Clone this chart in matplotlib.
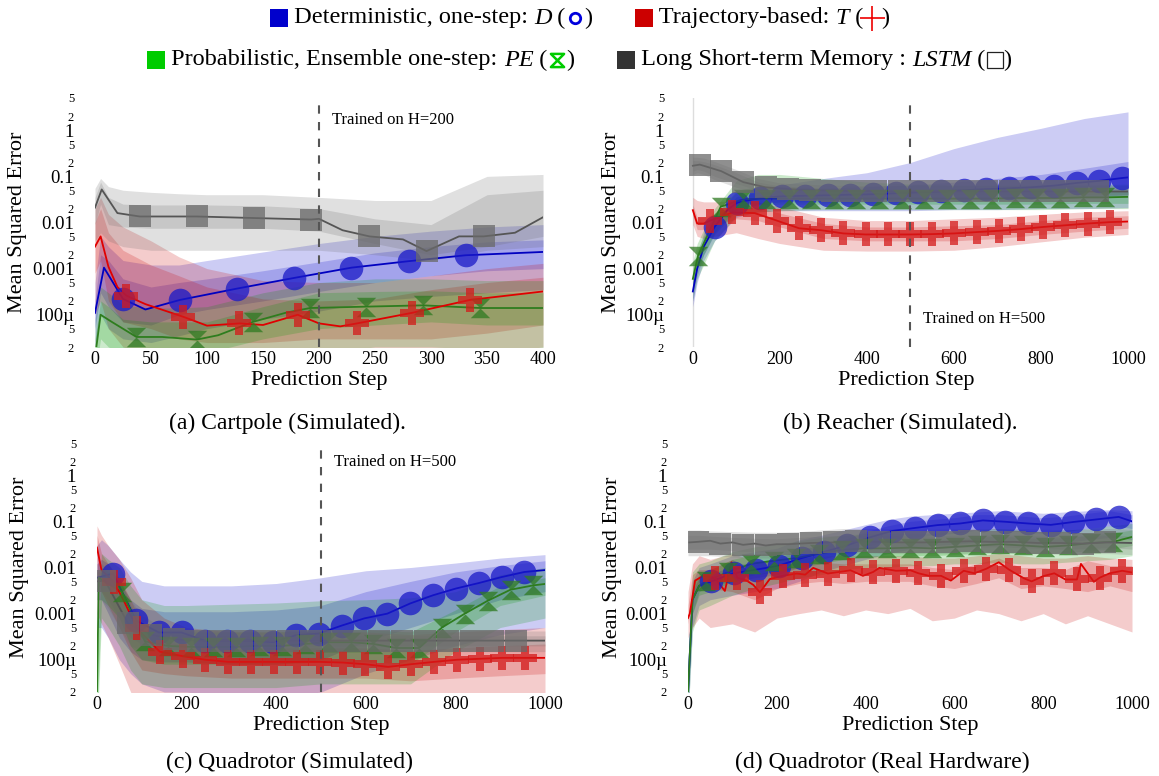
import matplotlib
matplotlib.use("Agg")
import matplotlib.pyplot as plt
from matplotlib.path import Path
from matplotlib.patches import Rectangle
from matplotlib.lines import Line2D
from matplotlib.offsetbox import HPacker, TextArea, DrawingArea, AnchoredOffsetbox

plt.rcParams["font.family"] = ["Liberation Serif", "DejaVu Serif"]

# ---------------- (a) Cartpole (Simulated) ----------------
A_BAND_X = [0, 5, 12, 25, 50, 75, 100, 150, 200, 250, 300, 350, 400]

A_D_X = [0, 8, 25, 45, 76, 127, 178, 229, 280, 331, 400]
A_D_Y = [1.1e-4, 1.05e-3, 2.2e-4, 1.3e-4, 2.1e-4, 3.7e-4, 6.3e-4, 1.05e-3, 1.45e-3, 1.95e-3, 2.3e-3]
A_D_MK = [25, 76, 127, 178, 229, 280, 331]
A_D_IN = ([5e-5, 3e-4, 1.5e-4, 7e-5, 6e-5, 1e-4, 1.3e-4, 2e-4, 3.2e-4, 5e-4, 7e-4, 9e-4, 1e-3],
          [2e-4, 2e-3, 1.5e-3, 6e-4, 4e-4, 5e-4, 6e-4, 9e-4, 1.4e-3, 2.2e-3, 3e-3, 3.8e-3, 4.2e-3])
A_D_OUT = ([2e-5, 1e-4, 5e-5, 3e-5, 2.5e-5, 3.5e-5, 5e-5, 8e-5, 1.2e-4, 2e-4, 2.5e-4, 3e-4, 3.5e-4],
           [5e-4, 5e-3, 3e-3, 1.5e-3, 1.2e-3, 1.2e-3, 1.5e-3, 2.3e-3, 3.5e-3, 5e-3, 6.5e-3, 8e-3, 9e-3])

A_T_X = [0, 5, 12, 20, 28, 45, 79, 100, 129, 150, 181, 200, 219, 234, 283, 335, 400]
A_T_Y = [3e-3, 5e-3, 1.1e-3, 4e-4, 2.6e-4, 1.7e-4, 9e-5, 5.8e-5, 6.5e-5, 6e-5, 1.0e-4, 6.5e-5, 5.6e-5,
         6.5e-5, 1.1e-4, 2.1e-4, 3.2e-4]
A_T_MK = [28, 79, 129, 181, 234, 283, 335]
A_T_IN = ([8e-4, 1.5e-3, 2e-4, 7e-5, 5e-5, 3e-5, 2.5e-5, 2.5e-5, 3e-5, 3e-5, 3e-5, 4e-5, 6e-5],
          [1e-2, 2e-2, 6e-3, 2.5e-3, 1.2e-3, 7e-4, 4e-4, 2.2e-4, 2e-4, 2.2e-4, 3.5e-4, 5e-4, 6.5e-4])
A_T_OUT = ([1e-4, 2e-4, 5e-5, 2e-5, 1.5e-5, 1e-5, 1e-5, 1e-5, 1e-5, 1e-5, 1e-5, 1.5e-5, 2e-5],
           [2e-2, 3.5e-2, 1.5e-2, 8e-3, 4e-3, 1.8e-3, 1e-3, 5.5e-4, 5e-4, 5e-4, 7e-4, 1e-3, 1.3e-3])

A_PE_X = [0, 5, 15, 37, 60, 91, 110, 141, 170, 192, 242, 293, 344, 400]
A_PE_Y = [1.2e-5, 1.0e-4, 7e-5, 3.3e-5, 3.3e-5, 2.9e-5, 3.6e-5, 7e-5, 1.1e-4, 1.4e-4, 1.5e-4, 1.6e-4,
          1.4e-4, 1.4e-4]
A_PE_MK = [37, 91, 141, 192, 242, 293, 344]
A_PE_IN = ([5e-6, 3e-5, 2e-5, 1.5e-5, 1.5e-5, 1.5e-5, 1.5e-5, 3e-5, 5e-5, 6e-5, 7e-5, 6e-5, 6e-5],
           [3e-5, 2e-4, 1.5e-4, 8e-5, 7e-5, 7e-5, 7e-5, 1.5e-4, 3e-4, 3.2e-4, 3.3e-4, 3e-4, 3e-4])
A_PE_OUT = ([3e-6, 1e-5, 8e-6, 5e-6, 5e-6, 5e-6, 5e-6, 1e-5, 1.5e-5, 2e-5, 2e-5, 1.8e-5, 1.8e-5],
            [8e-5, 4e-4, 3e-4, 1.6e-4, 1.4e-4, 1.4e-4, 1.5e-4, 3e-4, 5e-4, 6e-4, 6e-4, 5.5e-4, 5.5e-4])

A_L_X = [0, 6, 20, 40, 91, 142, 193, 200, 221, 245, 275, 296, 325, 347, 375, 400]
A_L_Y = [0.021, 0.052, 0.016, 0.0135, 0.0135, 0.0125, 0.0116, 0.012, 0.0068, 0.005, 0.0043, 0.0024,
         0.005, 0.005, 0.006, 0.013]
A_L_MK = [40, 91, 142, 193, 245, 296, 347]
A_L_IN = ([0.009, 0.025, 0.009, 0.008, 0.0075, 0.0075, 0.0075, 0.0075, 0.0065, 0.0035, 0.002, 0.003, 0.005],
          [0.035, 0.075, 0.035, 0.025, 0.024, 0.024, 0.024, 0.023, 0.02, 0.012, 0.009, 0.04, 0.05])
A_L_OUT = ([0.004, 0.006, 0.004, 0.003, 0.0025, 0.0025, 0.0025, 0.0025, 0.0025, 0.002, 0.0015, 0.0025, 0.003],
           [0.055, 0.09, 0.06, 0.05, 0.045, 0.042, 0.04, 0.04, 0.035, 0.03, 0.03, 0.1, 0.11])

# ---------------- (b) Reacher (Simulated) ----------------
B_BAND_X = [0, 10, 25, 50, 100, 150, 200, 300, 400, 500, 600, 700, 800, 900, 1000]

B_D_X = [0, 10, 25, 50, 80, 102, 154, 206, 258, 310, 362, 414, 466, 518, 570, 622, 674, 726, 778, 830,
         882, 934, 986, 1000]
B_D_Y = [3.2e-4, 1e-3, 3e-3, 8e-3, 0.019, 0.027, 0.034, 0.037, 0.038, 0.039, 0.04, 0.041, 0.043, 0.045,
         0.047, 0.05, 0.053, 0.055, 0.058, 0.063, 0.072, 0.08, 0.092, 0.095]
B_D_MK = [50, 102, 154, 206, 258, 310, 362, 414, 466, 518, 570, 622, 674, 726, 778, 830, 882, 934, 986]
B_D_IN = ([2e-4, 7e-4, 2e-3, 5.5e-3, 0.018, 0.025, 0.028, 0.028, 0.028, 0.028, 0.029, 0.03, 0.032, 0.035, 0.04],
          [5e-4, 1.5e-3, 4.5e-3, 0.011, 0.036, 0.046, 0.05, 0.055, 0.06, 0.065, 0.075, 0.09, 0.11, 0.15, 0.21])
B_D_OUT = ([1.5e-4, 5e-4, 1.5e-3, 4e-3, 0.013, 0.017, 0.018, 0.018, 0.018, 0.018, 0.019, 0.019, 0.02, 0.02, 0.021],
           [7e-4, 2e-3, 6e-3, 0.015, 0.045, 0.055, 0.065, 0.09, 0.12, 0.2, 0.4, 0.7, 1.1, 1.8, 2.5])

B_T_X = [0, 10, 25, 40, 91, 142, 193, 244, 295, 346, 397, 448, 499, 550, 601, 652, 703, 754, 805, 856,
         907, 958, 1000]
B_T_Y = [0.0185, 0.0095, 0.0095, 0.011, 0.0165, 0.016, 0.011, 0.0075, 0.0068, 0.0058, 0.0055, 0.0055,
         0.0055, 0.0056, 0.0058, 0.0062, 0.0066, 0.0072, 0.008, 0.0087, 0.0095, 0.0102, 0.0105]
B_T_MK = [40, 91, 142, 193, 244, 295, 346, 397, 448, 499, 550, 601, 652, 703, 754, 805, 856, 907, 958]
B_T_IN = ([0.014, 0.007, 0.007, 0.0085, 0.012, 0.011, 0.008, 0.0045, 0.004, 0.004, 0.004, 0.0045, 0.0055, 0.0065, 0.0075],
          [0.024, 0.013, 0.013, 0.015, 0.022, 0.021, 0.016, 0.0095, 0.008, 0.008, 0.0085, 0.009, 0.011, 0.013, 0.014])
B_T_OUT = ([0.009, 0.005, 0.0045, 0.005, 0.006, 0.0045, 0.0035, 0.0025, 0.0024, 0.0024, 0.0025, 0.003, 0.0038, 0.0048, 0.0055],
           [0.035, 0.03, 0.028, 0.028, 0.03, 0.028, 0.022, 0.013, 0.011, 0.011, 0.012, 0.013, 0.015, 0.017, 0.018])

B_PE_X = [0, 12, 64, 116, 168, 220, 272, 324, 376, 428, 480, 532, 584, 636, 688, 740, 792, 844, 896, 948, 1000]
B_PE_Y = [6e-4, 1.9e-3, 0.022, 0.032, 0.033, 0.033, 0.033, 0.033, 0.033, 0.033, 0.033, 0.033, 0.033,
          0.033, 0.033, 0.034, 0.034, 0.034, 0.035, 0.035, 0.036]
B_PE_MK = [12, 64, 116, 168, 220, 272, 324, 376, 428, 480, 532, 584, 636, 688, 740, 792, 844, 896, 948]
B_PE_IN = ([3e-4, 1e-3, 2e-3, 6e-3, 0.02, 0.024, 0.025, 0.025, 0.025, 0.025, 0.025, 0.025, 0.025, 0.026, 0.026],
           [1e-3, 2.5e-3, 5e-3, 0.013, 0.05, 0.06, 0.06, 0.055, 0.05, 0.047, 0.046, 0.046, 0.046, 0.047, 0.048])
B_PE_OUT = ([2e-4, 6e-4, 1.2e-3, 4e-3, 0.014, 0.017, 0.018, 0.019, 0.019, 0.019, 0.019, 0.019, 0.019, 0.02, 0.02],
            [1.4e-3, 3.5e-3, 7e-3, 0.02, 0.08, 0.11, 0.11, 0.09, 0.075, 0.068, 0.065, 0.065, 0.065, 0.066, 0.068])

B_L_X = [0, 16, 65, 116, 167, 218, 269, 320, 371, 422, 473, 524, 575, 626, 677, 728, 779, 830, 881, 932, 1000]
B_L_Y = [0.17, 0.18, 0.13, 0.075, 0.058, 0.053, 0.05, 0.049, 0.048, 0.048, 0.047, 0.047, 0.047, 0.047,
         0.047, 0.047, 0.047, 0.047, 0.047, 0.047, 0.047]
B_L_MK = [16, 65, 116, 167, 218, 269, 320, 371, 422, 473, 524, 575, 626, 677, 728, 779, 830, 881, 932]
B_L_IN = ([0.13, 0.14, 0.13, 0.1, 0.07, 0.05, 0.045, 0.042, 0.041, 0.041, 0.04, 0.04, 0.04, 0.04, 0.04],
          [0.22, 0.22, 0.21, 0.18, 0.12, 0.075, 0.062, 0.056, 0.055, 0.055, 0.055, 0.055, 0.055, 0.055, 0.055])
B_L_OUT = ([0.11, 0.12, 0.11, 0.085, 0.058, 0.043, 0.038, 0.036, 0.035, 0.035, 0.035, 0.035, 0.035, 0.035, 0.035],
           [0.26, 0.26, 0.25, 0.21, 0.14, 0.09, 0.072, 0.065, 0.063, 0.063, 0.063, 0.063, 0.063, 0.063, 0.063])

# ---------------- (c) Quadrotor (Simulated) ----------------
C_BAND_X = [0, 10, 25, 50, 75, 100, 150, 200, 300, 400, 500, 600, 700, 800, 900, 1000]

C_D_X = [0, 36, 87, 138, 189, 240, 291, 342, 393, 444, 495, 546, 597, 648, 699, 750, 801, 852, 903, 954, 1000]
C_D_Y = [6e-3, 7.4e-3, 7.1e-4, 3.9e-4, 3.9e-4, 2.6e-4, 2.6e-4, 2.6e-4, 2.4e-4, 3.4e-4, 3.7e-4, 5.5e-4,
         7.9e-4, 1.0e-3, 1.66e-3, 2.5e-3, 3.5e-3, 4.6e-3, 6.2e-3, 8e-3, 8.8e-3]
C_D_MK = [36, 87, 138, 189, 240, 291, 342, 393, 444, 495, 546, 597, 648, 699, 750, 801, 852, 903, 954]
C_D_IN = ([2e-3, 2e-3, 1e-3, 3e-4, 1.5e-4, 1e-4, 9e-5, 9e-5, 8e-5, 8e-5, 1e-4, 2.5e-4, 5e-4, 1e-3, 2e-3, 3e-3],
          [0.012, 0.015, 0.012, 0.005, 2e-3, 1.3e-3, 1.1e-3, 1.1e-3, 1.1e-3, 1.2e-3, 1.5e-3, 3e-3, 5e-3, 8e-3, 0.011, 0.014])
C_D_OUT = ([5e-4, 5e-4, 3e-4, 1e-4, 5e-5, 3e-5, 2e-5, 2e-5, 1.5e-5, 1.5e-5, 2e-5, 5e-5, 1e-4, 2e-4, 3.5e-4, 5e-4],
           [0.03, 0.04, 0.03, 0.015, 8e-3, 5e-3, 4e-3, 4e-3, 4e-3, 4.5e-3, 6e-3, 8.5e-3, 0.01, 0.0125, 0.016, 0.019])

C_T_X = [0, 10, 38, 60, 89, 140, 191, 242, 293, 344, 395, 446, 497, 548, 599, 650, 701, 752, 803, 854,
         905, 956, 1000]
C_T_Y = [0.027, 0.0088, 4.8e-3, 1.9e-3, 4.8e-4, 1.5e-4, 1.2e-4, 1.0e-4, 9e-5, 9e-5, 9e-5, 9e-5, 9e-5,
         8.7e-5, 8e-5, 7e-5, 8e-5, 9e-5, 1.0e-4, 1.05e-4, 1.1e-4, 1.1e-4, 1.1e-4]
C_T_MK = [38, 89, 140, 191, 242, 293, 344, 395, 446, 497, 548, 599, 650, 701, 752, 803, 854, 905, 956]
C_T_IN = ([5e-3, 3e-3, 1.5e-3, 5e-4, 1.5e-4, 6e-5, 5e-5, 4.5e-5, 4e-5, 4e-5, 4e-5, 4e-5, 3.5e-5, 4e-5, 4.5e-5, 5e-5],
          [0.05, 0.02, 0.012, 6e-3, 2e-3, 6e-4, 2.5e-4, 2e-4, 1.8e-4, 1.8e-4, 1.8e-4, 1.8e-4, 1.6e-4, 1.8e-4, 2e-4, 2.2e-4])
C_T_OUT = ([1e-3, 6e-4, 3e-4, 8e-5, 2e-5, 1e-5, 8e-6, 8e-6, 8e-6, 8e-6, 8e-6, 8e-6, 8e-6, 1e-5, 1.2e-5, 1.5e-5],
           [0.08, 0.05, 0.03, 0.015, 6e-3, 2e-3, 8e-4, 5e-4, 4e-4, 4e-4, 4e-4, 4e-4, 3.5e-4, 4e-4, 4.5e-4, 5e-4])

C_PE_X = [0, 4, 56, 107, 158, 209, 260, 311, 362, 413, 464, 515, 566, 617, 668, 719, 770, 821, 872, 923, 974, 1000]
C_PE_Y = [2e-5, 6e-3, 2.9e-3, 2.5e-4, 2e-4, 1.9e-4, 1.9e-4, 1.9e-4, 2e-4, 2e-4, 2.2e-4, 2.4e-4, 2.4e-4,
          2.2e-4, 1.8e-4, 1.8e-4, 5e-4, 1.0e-3, 1.9e-3, 3.3e-3, 4.1e-3, 4.4e-3]
C_PE_MK = [56, 107, 158, 209, 260, 311, 362, 413, 464, 515, 566, 617, 668, 719, 770, 821, 872, 923, 974]
C_PE_IN = ([5e-6, 2e-3, 1.5e-3, 8e-4, 2e-4, 1e-4, 8e-5, 8e-5, 8e-5, 8e-5, 9e-5, 9e-5, 8e-5, 4e-4, 1.5e-3, 2.5e-3],
           [1e-4, 0.01, 8e-3, 6e-3, 1.5e-3, 6e-4, 4e-4, 4e-4, 4e-4, 4e-4, 4.5e-4, 4.5e-4, 4e-4, 1.2e-3, 4e-3, 6e-3])
C_PE_OUT = ([2e-6, 8e-4, 5e-4, 2e-4, 6e-5, 3e-5, 2.5e-5, 2.5e-5, 2.5e-5, 2.5e-5, 3e-5, 3e-5, 3e-5, 1.5e-4, 5e-4, 8e-4],
            [3e-4, 0.02, 0.015, 0.01, 4e-3, 2e-3, 1.5e-3, 1.5e-3, 1.6e-3, 1.7e-3, 1.9e-3, 2e-3, 2.2e-3, 3e-3, 7e-3, 0.01])

C_L_X = [0, 18, 69, 120, 171, 222, 273, 324, 375, 426, 477, 528, 579, 630, 681, 732, 783, 834, 885, 936, 1000]
C_L_Y = [5e-3, 5.2e-3, 6.2e-4, 3.5e-4, 2.8e-4, 2.6e-4, 2.6e-4, 2.6e-4, 2.6e-4, 2.6e-4, 2.6e-4, 2.6e-4,
         2.6e-4, 2.6e-4, 2.6e-4, 2.6e-4, 2.6e-4, 2.6e-4, 2.6e-4, 2.6e-4, 2.6e-4]
C_L_MK = [18, 69, 120, 171, 222, 273, 324, 375, 426, 477, 528, 579, 630, 681, 732, 783, 834, 885, 936]
C_L_IN = ([3e-3, 3e-3, 2e-3, 8e-4, 3e-4, 2.2e-4, 2e-4, 2e-4, 2e-4, 2e-4, 2e-4, 2e-4, 2e-4, 2e-4, 2e-4, 2e-4],
          [8e-3, 8e-3, 6e-3, 3e-3, 1.2e-3, 6e-4, 3.8e-4, 3.4e-4, 3.3e-4, 3.3e-4, 3.3e-4, 3.3e-4, 3.3e-4, 3.3e-4, 3.3e-4, 3.3e-4])
C_L_OUT = ([2e-3, 2e-3, 1.3e-3, 5e-4, 2e-4, 1.6e-4, 1.5e-4, 1.5e-4, 1.5e-4, 1.5e-4, 1.5e-4, 1.5e-4, 1.5e-4, 1.5e-4, 1.5e-4, 1.5e-4],
           [0.012, 0.012, 9e-3, 5e-3, 2e-3, 9e-4, 5e-4, 4.3e-4, 4.2e-4, 4.2e-4, 4.2e-4, 4.2e-4, 4.2e-4, 4.2e-4, 4.2e-4, 4.2e-4])

# ---------------- (d) Quadrotor (Real Hardware) ----------------
D_BAND_X = [0, 10, 25, 50, 100, 150, 200, 250, 300, 350, 400, 450, 500, 550, 600, 650, 700, 750, 800,
            850, 900, 950, 1000]

D_D_X = [0, 10, 25, 52, 103, 154, 205, 256, 307, 358, 409, 460, 511, 562, 613, 664, 715, 766, 817, 868,
         919, 970, 1000]
D_D_Y = [2e-5, 2e-3, 4e-3, 5e-3, 7.5e-3, 0.009, 0.011, 0.016, 0.022, 0.03, 0.045, 0.062, 0.072, 0.083,
         0.09, 0.105, 0.098, 0.09, 0.084, 0.097, 0.11, 0.125, 0.1]
D_D_MK = [52, 103, 154, 205, 256, 307, 358, 409, 460, 511, 562, 613, 664, 715, 766, 817, 868, 919, 970]
D_D_IN = ([1e-5, 1e-3, 3e-3, 4e-3, 5e-3, 6e-3, 7e-3, 0.01, 0.015, 0.02, 0.028, 0.038, 0.045, 0.05, 0.055,
           0.065, 0.065, 0.06, 0.055, 0.06, 0.07, 0.08, 0.07],
          [3e-5, 3e-3, 6e-3, 7e-3, 0.011, 0.013, 0.016, 0.024, 0.03, 0.04, 0.06, 0.08, 0.1, 0.11, 0.12,
           0.14, 0.14, 0.13, 0.12, 0.13, 0.15, 0.17, 0.14])
D_D_OUT = ([5e-6, 5e-4, 1.5e-3, 2e-3, 2.5e-3, 3e-3, 3.5e-3, 5e-3, 8e-3, 0.011, 0.015, 0.02, 0.025, 0.03,
            0.032, 0.035, 0.035, 0.035, 0.032, 0.035, 0.04, 0.045, 0.04],
           [1e-4, 5e-3, 0.01, 0.012, 0.018, 0.022, 0.026, 0.04, 0.05, 0.065, 0.085, 0.11, 0.13, 0.14, 0.15,
            0.16, 0.17, 0.16, 0.15, 0.16, 0.17, 0.18, 0.17])

D_T_X = [0, 4, 16, 34, 60, 83, 98, 111, 132, 147, 162, 184, 213, 245, 264, 282, 315, 340, 366, 394, 417,
         431, 468, 501, 519, 543, 570, 592, 621, 645, 672, 700, 723, 757, 774, 800, 825, 850, 876, 885,
         914, 927, 950, 978, 1000]
D_T_Y = [8e-4, 1e-3, 5.2e-3, 6.6e-3, 6e-3, 3.1e-3, 1.3e-2, 6e-3, 5.2e-3, 4.2e-3, 2.9e-3, 5.6e-3, 6.6e-3,
         7.4e-3, 7e-3, 9.8e-3, 7.4e-3, 8e-3, 8.7e-3, 6.6e-3, 8e-3, 9.8e-3, 8.5e-3, 8.7e-3, 7.5e-3, 6.6e-3,
         6.6e-3, 5.2e-3, 8.5e-3, 7.5e-3, 9.4e-3, 1.3e-2, 9e-3, 5.8e-3, 5e-3, 6.5e-3, 7.5e-3, 5.5e-3,
         5.5e-3, 1.2e-2, 4.9e-3, 6e-3, 7.5e-3, 8.5e-3, 7.8e-3]
D_T_MK = [60, 111, 162, 213, 264, 315, 366, 417, 468, 519, 570, 621, 672, 723, 774, 825, 876, 927, 978]
D_T_IN = ([6e-4, 2.5e-3, 3.5e-3, 3.5e-3, 3e-3, 2e-3, 3.5e-3, 4.5e-3, 5e-3, 4.5e-3, 5e-3, 5e-3, 5e-3, 4e-3,
           3.5e-3, 4.5e-3, 6e-3, 3.5e-3, 4e-3, 3.5e-3, 3e-3, 4e-3, 3e-3],
          [1.5e-3, 7e-3, 9e-3, 9e-3, 0.015, 7e-3, 9e-3, 0.011, 0.013, 0.012, 0.012, 0.012, 0.012, 0.01,
           9e-3, 0.012, 0.016, 0.01, 0.01, 9e-3, 0.014, 0.011, 0.011])
D_T_OUT = ([3e-4, 5e-4, 8e-4, 5e-4, 6e-4, 4e-4, 8e-4, 1e-3, 1.2e-3, 9e-4, 1.2e-3, 1e-3, 1.3e-3, 7e-4,
            8e-4, 1.2e-3, 1e-3, 7e-4, 1e-3, 6e-4, 9e-4, 6e-4, 4e-4],
           [3e-3, 0.012, 0.018, 0.015, 0.02, 0.014, 0.014, 0.016, 0.018, 0.018, 0.018, 0.018, 0.018, 0.016,
            0.016, 0.018, 0.02, 0.018, 0.016, 0.016, 0.018, 0.016, 0.015])

D_PE_X = [0, 10, 25, 40, 91, 142, 193, 244, 295, 346, 397, 448, 499, 550, 601, 652, 703, 754, 805, 856,
          907, 958, 1000]
D_PE_Y = [2e-5, 2e-3, 4e-3, 5e-3, 8e-3, 0.012, 0.014, 0.016, 0.02, 0.024, 0.026, 0.026, 0.027, 0.026,
          0.028, 0.03, 0.032, 0.03, 0.028, 0.03, 0.034, 0.036, 0.046]
D_PE_MK = [40, 91, 142, 193, 244, 295, 346, 397, 448, 499, 550, 601, 652, 703, 754, 805, 856, 907, 958]
D_PE_IN = ([1e-5, 1e-3, 2.5e-3, 3e-3, 5e-3, 7e-3, 8e-3, 0.01, 0.012, 0.015, 0.017, 0.017, 0.018, 0.018,
            0.019, 0.02, 0.021, 0.02, 0.02, 0.021, 0.023, 0.025, 0.03],
           [3e-5, 4e-3, 7e-3, 9e-3, 0.015, 0.019, 0.022, 0.025, 0.03, 0.036, 0.04, 0.04, 0.04, 0.04, 0.042,
            0.045, 0.048, 0.045, 0.042, 0.045, 0.05, 0.055, 0.065])
D_PE_OUT = ([5e-6, 4e-4, 1.2e-3, 1.5e-3, 2.5e-3, 3.5e-3, 4.5e-3, 6e-3, 7e-3, 9e-3, 0.01, 0.01, 0.011,
             0.011, 0.012, 0.012, 0.013, 0.012, 0.012, 0.013, 0.014, 0.015, 0.018],
            [1e-4, 8e-3, 0.012, 0.014, 0.022, 0.028, 0.032, 0.038, 0.045, 0.05, 0.055, 0.055, 0.055, 0.055,
             0.06, 0.065, 0.07, 0.065, 0.06, 0.065, 0.07, 0.08, 0.09])

D_L_X = [3, 22, 50, 73, 100, 124, 150, 175, 200, 226, 277, 328, 379, 430, 481, 532, 583, 634, 685, 736,
         787, 838, 889, 940, 1000]
D_L_Y = [0.035, 0.036, 0.038, 0.033, 0.035, 0.031, 0.033, 0.03, 0.032, 0.032, 0.034, 0.035, 0.037, 0.036,
         0.035, 0.035, 0.036, 0.037, 0.036, 0.036, 0.034, 0.034, 0.033, 0.035, 0.034]
D_L_MK = [22, 73, 124, 175, 226, 277, 328, 379, 430, 481, 532, 583, 634, 685, 736, 787, 838, 889, 940]
D_L_IN = ([0.025, 0.025, 0.025, 0.025, 0.023, 0.022, 0.022, 0.024, 0.025, 0.027, 0.028, 0.027, 0.026,
           0.026, 0.027, 0.028, 0.028, 0.027, 0.026, 0.025, 0.026, 0.027, 0.025],
          [0.05, 0.05, 0.05, 0.048, 0.045, 0.043, 0.042, 0.045, 0.048, 0.05, 0.05, 0.05, 0.048, 0.048, 0.05,
           0.05, 0.05, 0.05, 0.048, 0.047, 0.048, 0.05, 0.048])
D_L_OUT = ([0.018, 0.018, 0.018, 0.018, 0.017, 0.016, 0.016, 0.017, 0.018, 0.02, 0.021, 0.02, 0.02, 0.02,
            0.02, 0.021, 0.021, 0.02, 0.02, 0.019, 0.02, 0.02, 0.019],
           [0.065, 0.065, 0.065, 0.062, 0.06, 0.058, 0.058, 0.06, 0.065, 0.07, 0.07, 0.07, 0.068, 0.068, 0.07,
            0.07, 0.07, 0.07, 0.068, 0.066, 0.068, 0.07, 0.068])

# y-axis tick labels (plotly style log axis)
MAJOR_TICKS = [1e-4, 1e-3, 1e-2, 1e-1, 1]
MAJOR_LABELS = ["100µ", "0.001", "0.01", "0.1", "1"]
MINOR_TICKS = [2e-5, 5e-5, 2e-4, 5e-4, 2e-3, 5e-3, 2e-2, 5e-2, 0.2, 0.5, 2, 5]
MINOR_LABELS = ["2", "5", "2", "5", "2", "5", "2", "5", "2", "5", "2", "5"]

# ---------------- styling ----------------
FILL = {"D": "#0000c8", "T": "#c80000", "PE": "#009600", "L": "#646464"}
LINE = {"D": "#0000c0", "T": "#e00000", "PE": "#2e7d1e", "L": "#555555"}
MKCOL = {"D": "#1a1ac8", "T": "#d41a1a", "PE": "#2f7a22", "L": "#6a6a6a"}
HOURGLASS = Path([(-1, 1), (1, 1), (-1, -1), (1, -1), (-1, 1)],
                 [Path.MOVETO, Path.LINETO, Path.LINETO, Path.LINETO, Path.CLOSEPOLY])
MARKER = {"D": ("o", 17), "T": ("P", 17), "PE": (HOURGLASS, 14), "L": ("s", 15.5)}

W, H = 1159, 776
fig = plt.figure(figsize=(W / 100, H / 100), dpi=100)


def px_axes(left, right, top, bottom):
    return fig.add_axes([left / W, 1 - bottom / H, (right - left) / W, (bottom - top) / H])


def draw_panel(ax, band_x, series, xlim, xticks, vline, label_xy, ylab_x):
    # bands
    for key, x, y, mk, band_in, band_out in series:
        ax.fill_between(band_x, band_out[0], band_out[1], color=FILL[key], alpha=0.2, lw=0)
        ax.fill_between(band_x, band_in[0], band_in[1], color=FILL[key], alpha=0.2, lw=0)
    # lines and markers
    for key in ["D", "PE", "T", "L"]:
        for k, x, y, mk, band_in, band_out in series:
            if k != key:
                continue
            ax.plot(x, y, color=LINE[key], lw=1.3, zorder=3)
            idx = [x.index(s) for s in mk]
            m, ms = MARKER[key]
            ax.plot([x[i] for i in idx], [y[i] for i in idx], ls="none", marker=m, ms=ms,
                    color=MKCOL[key], alpha=0.75, mew=0, zorder=4)
    if vline is not None:
        ax.axvline(vline[0], color="#555555", ls=(0, (4, 4)), lw=1.5, zorder=5)
        ax.annotate(vline[1], xy=label_xy, xytext=(9, 0), textcoords="offset points",
                    fontsize=12, va="center", ha="left")
    ax.set_yscale("log")
    ax.set_ylim(2e-5, 5)
    ax.set_xlim(*xlim)
    ax.set_xticks(xticks)
    ax.set_yticks(MAJOR_TICKS, MAJOR_LABELS)
    ax.set_yticks(MINOR_TICKS, MINOR_LABELS, minor=True)
    ax.tick_params(axis="y", which="major", length=0, labelsize=13.5, pad=15)
    ax.tick_params(axis="y", which="minor", length=0, labelsize=9, pad=15)
    ax.tick_params(axis="x", length=0, labelsize=13, pad=3)
    for s in ax.spines.values():
        s.set_visible(False)
    ax.set_xlabel("Prediction Step", fontsize=16)
    ax.set_ylabel("Mean Squared Error", fontsize=16)
    ax.xaxis.set_label_coords(0.5, -0.135)
    ax.xaxis.label.set_va("center")
    ax.yaxis.set_label_coords(ylab_x, 0.5)
    ax.yaxis.label.set_va("center")


ax_a = px_axes(95, 543, 98, 347)
draw_panel(ax_a, A_BAND_X,
           [("D", A_D_X, A_D_Y, A_D_MK, A_D_IN, A_D_OUT),
            ("T", A_T_X, A_T_Y, A_T_MK, A_T_IN, A_T_OUT),
            ("PE", A_PE_X, A_PE_Y, A_PE_MK, A_PE_IN, A_PE_OUT),
            ("L", A_L_X, A_L_Y, A_L_MK, A_L_IN, A_L_OUT)],
           (0, 400), range(0, 401, 50), (200, "Trained on H=200"), (200, 1.65), -0.172)

ax_b = px_axes(685, 1128, 98, 347)
ax_b.axvline(0, color="#dddddd", lw=1, zorder=0)
draw_panel(ax_b, B_BAND_X,
           [("D", B_D_X, B_D_Y, B_D_MK, B_D_IN, B_D_OUT),
            ("T", B_T_X, B_T_Y, B_T_MK, B_T_IN, B_T_OUT),
            ("PE", B_PE_X, B_PE_Y, B_PE_MK, B_PE_IN, B_PE_OUT),
            ("L", B_L_X, B_L_Y, B_L_MK, B_L_IN, B_L_OUT)],
           (-18, 1000), range(0, 1001, 200), (500, "Trained on H=500"), (500, 8e-5), -0.165)

ax_c = px_axes(97, 545, 443, 692)
draw_panel(ax_c, C_BAND_X,
           [("D", C_D_X, C_D_Y, C_D_MK, C_D_IN, C_D_OUT),
            ("T", C_T_X, C_T_Y, C_T_MK, C_T_IN, C_T_OUT),
            ("PE", C_PE_X, C_PE_Y, C_PE_MK, C_PE_IN, C_PE_OUT),
            ("L", C_L_X, C_L_Y, C_L_MK, C_L_IN, C_L_OUT)],
           (0, 1000), range(0, 1001, 200), (500, "Trained on H=500"), (500, 1.95), -0.172)

ax_d = px_axes(688, 1132, 443, 692)
draw_panel(ax_d, D_BAND_X,
           [("D", D_D_X, D_D_Y, D_D_MK, D_D_IN, D_D_OUT),
            ("T", D_T_X, D_T_Y, D_T_MK, D_T_IN, D_T_OUT),
            ("PE", D_PE_X, D_PE_Y, D_PE_MK, D_PE_IN, D_PE_OUT),
            ("L", D_L_X, D_L_Y, D_L_MK, D_L_IN, D_L_OUT)],
           (0, 1000), range(0, 1001, 200), None, None, -0.171)

# sub-captions
for text, x, y in [("(a) Cartpole (Simulated).", 287, 423), ("(b) Reacher (Simulated).", 900, 423),
                   ("(c) Quadrotor (Simulated)", 290, 762), ("(d) Quadrotor (Real Hardware)", 882, 762)]:
    fig.text(x / W, 1 - y / H, text, fontsize=17, ha="center", va="center")


# legend on top, built from text pieces and marker glyphs
def square(color):
    da = DrawingArea(13, 13, 0, 0)
    da.add_artist(Rectangle((0, 0), 13, 13, color=color, lw=0))
    return da


def glyph(marker, color, ms, mew):
    da = DrawingArea(13, 13, 0, 0)
    da.add_artist(Line2D([6.5], [6.5], marker=marker, ms=ms, mfc="none", mec=color, mew=mew))
    return da


def txt(s, italic=False):
    return TextArea(s, textprops=dict(fontsize=17.5, fontstyle="italic" if italic else "normal"))


def entry(color, label, short, mk):
    return [square(color), txt(" " + label + " "), txt(short, True), txt(" ("), mk, txt(")")]


row1 = (entry("#0000cc", "Deterministic, one-step:", "D", glyph("o", "#0000dd", 7.5, 2))
        + [txt("       ")]
        + entry("#cc0000", "Trajectory-based:", "T", glyph("+", "#ee0000", 18, 1.2)))
row2 = (entry("#00cc00", "Probabilistic, Ensemble one-step:", "PE", glyph(HOURGLASS, "#00cc00", 9.5, 1.8))
        + [txt("       ")]
        + entry("#333333", "Long Short-term Memory :", "LSTM", glyph("s", "#222222", 11, 0.9)))
for row, y in [(row1, 18), (row2, 60)]:
    box = HPacker(children=row, align="center", pad=0, sep=0)
    fig.add_artist(AnchoredOffsetbox(loc="center", child=box, frameon=False, pad=0, borderpad=0,
                                     bbox_to_anchor=(0.5, 1 - y / H), bbox_transform=fig.transFigure))

fig.savefig("out.png", dpi=100)
